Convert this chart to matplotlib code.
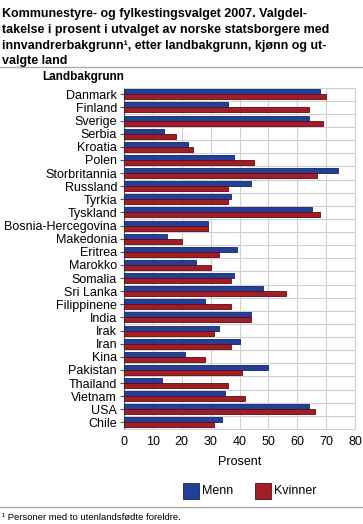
import numpy as np
import matplotlib.pyplot as plt

plt.rcParams['font.family'] = ['Liberation Sans', 'DejaVu Sans']

land = ["Danmark", "Finland", "Sverige", "Serbia", "Kroatia", "Polen",
        "Storbritannia", "Russland", "Tyrkia", "Tyskland", "Bosnia-Hercegovina",
        "Makedonia", "Eritrea", "Marokko", "Somalia", "Sri Lanka", "Filippinene",
        "India", "Irak", "Iran", "Kina", "Pakistan", "Thailand", "Vietnam",
        "USA", "Chile"]
menn = [68, 36, 64, 14, 22, 38, 74, 44, 37, 65, 29, 15, 39, 25, 38, 48,
        28, 44, 33, 40, 21, 50, 13, 35, 64, 34]
kvinner = [70, 64, 69, 18, 24, 45, 67, 36, 36, 68, 29, 20, 33, 30, 37, 56,
           37, 44, 31, 37, 28, 41, 36, 42, 66, 31]
xticks = [0, 10, 20, 30, 40, 50, 60, 70, 80]

blue = "#243f97"
red = "#a21d25"

fig = plt.figure(figsize=(3.63, 5.24), dpi=100)
ax = fig.add_axes([124/363, 1-429/524, 231/363, (429-87.7)/524])

y = np.arange(len(land))
h = 0.38
ax.barh(y - h/2, menn, height=h, color=blue, edgecolor="#13275f", linewidth=0.6, zorder=3)
ax.barh(y + h/2, kvinner, height=h, color=red, edgecolor="#5a0d12", linewidth=0.6, zorder=3)

ax.set_xlim(0, 80)
ax.set_ylim(len(land) - 0.5, -0.5)
ax.set_xticks(xticks)
ax.set_xticklabels([str(v) for v in xticks], fontsize=9)
ax.set_yticks(y)
ax.set_yticklabels(land, fontsize=9)
ax.set_yticks(np.arange(len(land) - 1) + 0.5, minor=True)
ax.tick_params(axis='y', which='minor', length=0)
ax.tick_params(axis='x', length=0, pad=5)
ax.tick_params(axis='y', which='major', length=3, color="#555555", pad=2)
ax.grid(axis='x', color="#cfcfd6", linewidth=0.8, zorder=0)
ax.grid(axis='y', which='minor', color="#cfcfd6", linewidth=0.8, zorder=0)
for s in ax.spines.values():
    s.set_color("#cfcfd6")
ax.spines['left'].set_color("#555555")
ax.set_xlabel("Prosent", fontsize=9, labelpad=6)

fig.text(0.006, 1-8/524, "Kommunestyre- og fylkestingsvalget 2007. Valgdel-\n"
         "takelse i prosent i utvalget av norske statsborgere med\n"
         "innvandrerbakgrunn\u00b9, etter landbakgrunn, kj\u00f8nn og ut-\n"
         "valgte land", fontsize=9, fontweight='bold', va='top', ha='left',
         linespacing=1.42)
fig.add_artist(plt.Line2D([0, 1], [1-67/524, 1-67/524], color="#aaaaaa", linewidth=1))
fig.text(42/363, 1-77/524, "Landbakgrunn", fontsize=8.5, fontweight='bold', va='center', ha='left')

# legend
fig.patches.append(plt.Rectangle((183/363, 1-499/524), 16/363, 16/524, transform=fig.transFigure,
                                 facecolor=blue, edgecolor="#13275f", linewidth=0.6))
fig.text(202/363, 1-491/524, "Menn", fontsize=9, va='center', ha='left')
fig.patches.append(plt.Rectangle((255/363, 1-499/524), 16/363, 16/524, transform=fig.transFigure,
                                 facecolor=red, edgecolor="#5a0d12", linewidth=0.6))
fig.text(274/363, 1-491/524, "Kvinner", fontsize=9, va='center', ha='left')

fig.add_artist(plt.Line2D([0, 1], [1-507/524, 1-507/524], color="#aaaaaa", linewidth=1))
fig.text(0.006, 1-517/524, "\u00b9 Personer med to utenlandsf\u00f8dte foreldre.", fontsize=6.8,
         va='center', ha='left')

fig.savefig("out.png", dpi=100)
